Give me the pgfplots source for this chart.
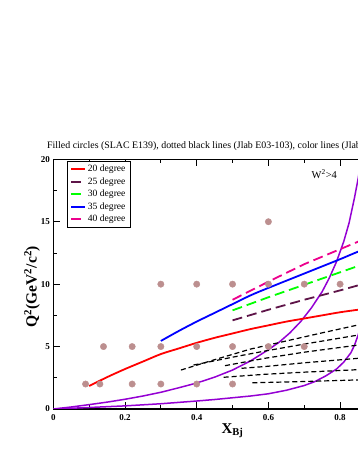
\documentclass[border=0pt]{standalone}
\usepackage{fontspec}
\setmainfont{Liberation Serif}
\usepackage{pgfplots}
\pgfplotsset{compat=1.18}
\definecolor{dotc}{HTML}{BC8F8F}
\definecolor{maroonc}{HTML}{5E1448}
\definecolor{violetc}{HTML}{9400D3}
\begin{document}
\begin{tikzpicture}
\path[use as bounding box] (0,0) rectangle (358pt,463pt);
\clip (0,0) rectangle (358pt,463pt);
\node[anchor=base west, inner sep=0, font=\fontsize{9.9}{11}\selectfont] at (47pt,314.7pt)
  {Filled circles (SLAC E139), dotted black lines (Jlab E03-103), color lines (Jlab 12 GeV)};
\begin{axis}[
  at={(53.3pt,54pt)}, anchor=south west, scale only axis,
  width=358.5pt, height=249.7pt,
  xmin=0, xmax=1, ymin=0, ymax=20,
  xtick={0,0.2,0.4,0.6,0.8,1}, ytick={0,5,10,15,20},
  minor x tick num=1, minor y tick num=1,
  tick align=inside,
  major tick length=6.5pt, minor tick length=3.5pt,
  tick style={black, line width=0.8pt},
  axis line style={line width=1.5pt},
  /pgf/number format/assume math mode=true,
  ticklabel style={font=\bfseries\fontsize{9}{10}\selectfont},
  xticklabel style={/pgf/number format/fixed, /pgf/number format/precision=1, yshift=-2pt},
  xlabel={X\textsubscript{Bj}},
  xlabel style={font=\bfseries\fontsize{15}{17}\selectfont, at={(axis description cs:0.5,-0.0977)}, anchor=base},
  ylabel={Q\textsuperscript{2}(GeV\textsuperscript{2}/c\textsuperscript{2})},
  ylabel style={font=\bfseries\fontsize{15.5}{17}\selectfont, at={(axis description cs:-0.0594,0.49)}, anchor=center},
  legend style={at={(axis description cs:0.038,0.993)}, anchor=north west, draw=black,
    font=\fontsize{9.6}{10}\selectfont, inner xsep=3pt, inner ysep=2pt, row sep=0.3pt, cells={anchor=west}},
  legend image code/.code={\draw[#1] (0pt,0pt) -- (14pt,0pt);},
]
% SLAC E139 points
\addplot[only marks, mark=*, mark size=3.2pt, color=dotc, forget plot] coordinates {
  (0.09,2) (0.13,2) (0.22,2) (0.30,2) (0.40,2) (0.50,2)
  (0.14,5) (0.22,5) (0.30,5) (0.40,5) (0.50,5) (0.60,5) (0.70,5)
  (0.30,10) (0.40,10) (0.50,10) (0.60,10) (0.70,10) (0.80,10)
  (0.60,15)
};
% kinematic limits
\addplot[violetc, line width=1.5pt, forget plot] coordinates {
  (0,0) (0.05,0.16) (0.1,0.35) (0.15,0.55) (0.2,0.78) (0.25,1.04) (0.3,1.34) (0.35,1.7)
  (0.4,2.08) (0.45,2.55) (0.5,3.12) (0.55,3.85) (0.6,4.75) (0.63,5.35) (0.66,6.1)
  (0.69,7.0) (0.72,8.1) (0.75,9.4) (0.77,10.5) (0.79,11.8) (0.81,13.4) (0.825,14.9)
  (0.84,16.9) (0.85,18.4) (0.86,20.2)
};
\addplot[violetc, line width=1.5pt, forget plot] coordinates {
  (0,0) (0.1,0.12) (0.2,0.25) (0.3,0.42) (0.35,0.53) (0.4,0.64) (0.45,0.76) (0.5,0.9)
  (0.55,1.04) (0.6,1.22) (0.65,1.5) (0.7,1.88) (0.73,2.2) (0.76,2.65) (0.79,3.2)
  (0.81,3.75) (0.83,4.5) (0.84,5.1) (0.85,5.9) (0.86,6.8) (0.87,7.8)
};
% Jlab E03-103
\addplot[black, line width=1.2pt, dash pattern=on 5pt off 3pt, forget plot] coordinates {
  (0.356,3.12) (0.45,3.95) (0.55,4.8) (0.65,5.45) (0.75,6.1) (0.85,6.73) (0.9,7.0)};
\addplot[black, line width=1.2pt, dash pattern=on 5pt off 3pt, forget plot] coordinates {
  (0.391,3.52) (0.5,4.15) (0.59,4.64) (0.7,5.2) (0.85,5.92) (0.9,6.15)};
\addplot[black, line width=1.2pt, dash pattern=on 5pt off 3pt, forget plot] coordinates {
  (0.479,3.47) (0.59,4.06) (0.7,4.55) (0.85,5.12) (0.9,5.3)};
\addplot[black, line width=1.2pt, dash pattern=on 5pt off 3pt, forget plot] coordinates {
  (0.525,3.26) (0.59,3.4) (0.7,3.7) (0.85,4.06) (0.9,4.2)};
\addplot[black, line width=1.2pt, dash pattern=on 5pt off 3pt, forget plot] coordinates {
  (0.475,2.54) (0.59,2.78) (0.7,2.95) (0.85,3.15) (0.9,3.2)};
\addplot[black, line width=1.2pt, dash pattern=on 5pt off 3pt, forget plot] coordinates {
  (0.555,2.1) (0.7,2.2) (0.85,2.33) (0.9,2.36)};
% Jlab 12 GeV
\addplot[red, line width=1.8pt, smooth] coordinates {
  (0.1,1.84) (0.15,2.55) (0.2,3.2) (0.25,3.8) (0.3,4.4) (0.35,4.85) (0.4,5.3) (0.45,5.7)
  (0.5,6.05) (0.55,6.4) (0.6,6.7) (0.65,7.0) (0.7,7.25) (0.75,7.5) (0.8,7.75) (0.85,7.95) (0.9,8.15)};
\addlegendentry{20 degree}
\addplot[maroonc, line width=1.8pt, dash pattern=on 10pt off 5pt] coordinates {
  (0.5,7.1) (0.6,7.95) (0.7,8.75) (0.8,9.5) (0.85,9.9) (0.9,10.3)};
\addlegendentry{25 degree}
\addplot[green, line width=1.8pt, dash pattern=on 10pt off 5pt] coordinates {
  (0.5,7.9) (0.6,8.95) (0.7,9.95) (0.8,10.95) (0.85,11.45) (0.9,11.9)};
\addlegendentry{30 degree}
\addplot[blue, line width=1.8pt, smooth] coordinates {
  (0.3,5.45) (0.35,6.25) (0.4,7.0) (0.45,7.7) (0.5,8.4) (0.55,9.1) (0.6,9.7) (0.7,10.85)
  (0.8,12.0) (0.85,12.6) (0.9,13.1)};
\addlegendentry{35 degree}
\addplot[magenta, line width=1.8pt, dash pattern=on 10pt off 5pt] coordinates {
  (0.5,8.75) (0.6,10.2) (0.7,11.6) (0.8,12.8) (0.85,13.4) (0.9,14.0)};
\addlegendentry{40 degree}
\node[anchor=base west, font=\fontsize{10.5}{12}\selectfont] at (axis cs:0.711,18.48) {W\textsuperscript{2}>4};
\end{axis}
\end{tikzpicture}
\end{document}
